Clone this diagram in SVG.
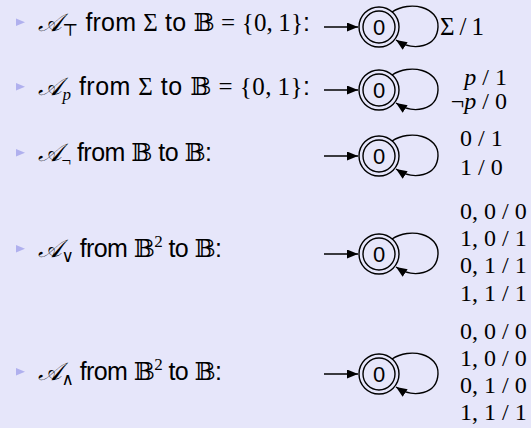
<svg xmlns="http://www.w3.org/2000/svg" width="531" height="428" viewBox="0 0 531 428">
<style>
.bg{fill:#e6e6fa}
.bul{fill:#b0b0ee}
.txt{font-family:"Liberation Sans",Arial,sans-serif;font-size:25px;fill:#000}
.m{font-family:"Liberation Serif","DejaVu Serif",serif}
.cal{font-family:"DejaVu Serif","Liberation Serif",serif;font-style:italic}
.sub{font-size:17px}
.lbl{font-family:"Liberation Serif","DejaVu Serif",serif;font-size:24px;fill:#000}
.st{fill:none;stroke:#000;stroke-width:1.4}
.num{font-family:"Liberation Sans",Arial,sans-serif;font-size:22px;text-anchor:middle;fill:#000}
.edge{fill:none;stroke:#000;stroke-width:1.4}
</style>
<defs>
<marker id="ah" markerWidth="12" markerHeight="10" refX="11" refY="4.5" orient="auto" markerUnits="userSpaceOnUse">
<path d="M0,0 L11,4.5 L0,9 Z" fill="#000"/>
</marker>
<g id="state">
<circle class="st" r="20"/>
<circle class="st" r="16"/>
<text class="num" y="8">0</text>
</g>
</defs>
<rect class="bg" width="531" height="428"/>

<g id="bullets">
<polygon class="bul" points="16,18.5 16,26 25,22.25"/>
<polygon class="bul" points="16,83 16,90.5 25,86.75"/>
<polygon class="bul" points="16,149 16,156.5 25,152.75"/>
<polygon class="bul" points="16,245 16,252.5 25,248.75"/>
<polygon class="bul" points="16,368 16,375.5 25,371.75"/>
</g>

<g id="items">
<text class="txt" x="38" y="31" textLength="272" lengthAdjust="spacing"><tspan class="cal">𝒜</tspan><tspan class="sub m" dy="5">⊤</tspan><tspan dy="-5"> from </tspan><tspan class="m">Σ</tspan> to <tspan class="m">𝔹 = {0,&#8201;1}</tspan>:</text>
<text class="txt" x="38" y="95" textLength="272" lengthAdjust="spacing"><tspan class="cal">𝒜</tspan><tspan class="sub m" font-style="italic" dy="5">p</tspan><tspan dy="-5"> from </tspan><tspan class="m">Σ</tspan> to <tspan class="m">𝔹 = {0,&#8201;1}</tspan>:</text>
<text class="txt" x="38" y="161" textLength="174" lengthAdjust="spacing"><tspan class="cal">𝒜</tspan><tspan class="sub m" dy="5">¬</tspan><tspan dy="-5"> from </tspan><tspan class="m">𝔹</tspan> to <tspan class="m">𝔹</tspan>:</text>
<text class="txt" x="38" y="257" textLength="184" lengthAdjust="spacing"><tspan class="cal">𝒜</tspan><tspan class="sub m" dy="5">∨</tspan><tspan dy="-5"> from </tspan><tspan class="m">𝔹</tspan><tspan class="sub m" dy="-10">2</tspan><tspan dy="10"> to </tspan><tspan class="m">𝔹</tspan>:</text>
<text class="txt" x="38" y="380" textLength="184" lengthAdjust="spacing"><tspan class="cal">𝒜</tspan><tspan class="sub m" dy="5">∧</tspan><tspan dy="-5"> from </tspan><tspan class="m">𝔹</tspan><tspan class="sub m" dy="-10">2</tspan><tspan dy="10"> to </tspan><tspan class="m">𝔹</tspan>:</text>
</g>

<g id="node-top"><use href="#state" x="379" y="27"/></g>
<g id="node-p"><use href="#state" x="379" y="90"/></g>
<g id="node-not"><use href="#state" x="379" y="156"/></g>
<g id="node-or"><use href="#state" x="379" y="254"/></g>
<g id="node-and"><use href="#state" x="379" y="374"/></g>

<g id="connectors">
<line class="edge" x1="324" y1="27" x2="358" y2="27" marker-end="url(#ah)"/>
<path class="edge" d="M392,12 C410,0 439,7 438,27 C437,47 414,52 396,40" marker-end="url(#ah)"/>
<line class="edge" x1="324" y1="90" x2="358" y2="90" marker-end="url(#ah)"/>
<path class="edge" d="M392,75 C410,63 439,70 438,90 C437,110 414,115 396,103" marker-end="url(#ah)"/>
<line class="edge" x1="324" y1="156" x2="358" y2="156" marker-end="url(#ah)"/>
<path class="edge" d="M392,141 C410,129 439,136 438,156 C437,176 414,181 396,169" marker-end="url(#ah)"/>
<line class="edge" x1="324" y1="254" x2="358" y2="254" marker-end="url(#ah)"/>
<path class="edge" d="M392,239 C410,227 439,234 438,254 C437,274 414,279 396,267" marker-end="url(#ah)"/>
<line class="edge" x1="324" y1="374" x2="358" y2="374" marker-end="url(#ah)"/>
<path class="edge" d="M392,359 C410,347 439,354 438,374 C437,394 414,399 396,387" marker-end="url(#ah)"/>
</g>

<g id="labels" class="lbl">
<text x="440" y="35" font-size="25" textLength="44" lengthAdjust="spacing">Σ/1</text>
<text x="507" y="85" text-anchor="end"><tspan font-style="italic">p</tspan> / 1</text>
<text x="507" y="109" text-anchor="end">¬<tspan font-style="italic">p</tspan> / 0</text>
<text x="460" y="146">0 / 1</text>
<text x="460" y="175">1 / 0</text>
<text x="460" y="219">0, 0 / 0</text>
<text x="460" y="246">1, 0 / 1</text>
<text x="460" y="273">0, 1 / 1</text>
<text x="460" y="301">1, 1 / 1</text>
<text x="460" y="339">0, 0 / 0</text>
<text x="460" y="366">1, 0 / 0</text>
<text x="460" y="393">0, 1 / 0</text>
<text x="460" y="420">1, 1 / 1</text>
</g>
</svg>
